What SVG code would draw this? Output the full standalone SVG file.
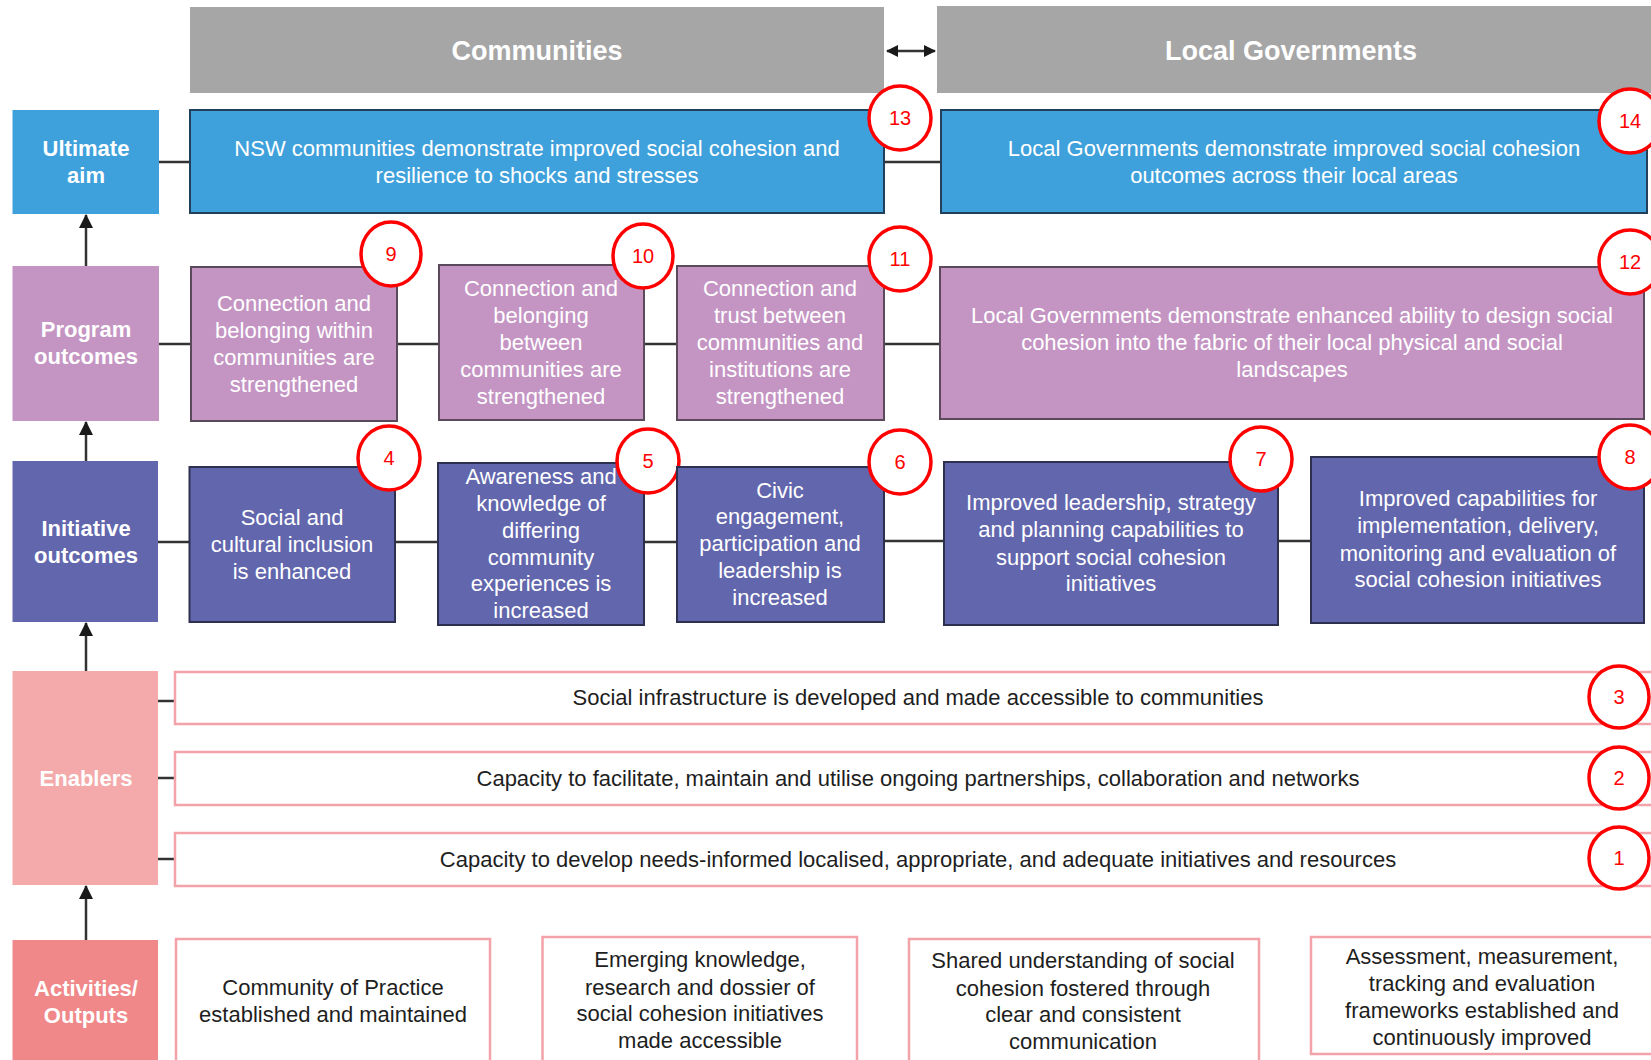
<svg xmlns="http://www.w3.org/2000/svg" width="1651" height="1060" viewBox="0 0 1651 1060">
<defs>
<marker id="ah" viewBox="0 0 14 14" refX="13" refY="7" markerWidth="14" markerHeight="14" markerUnits="userSpaceOnUse" orient="auto-start-reverse">
<path d="M0,0 L14,7 L0,14 Z" fill="#1a1a1a"/>
</marker>
<marker id="ah2" viewBox="0 0 12 12" refX="11" refY="6" markerWidth="12" markerHeight="12" markerUnits="userSpaceOnUse" orient="auto-start-reverse">
<path d="M0,0 L12,6 L0,12 Z" fill="#1a1a1a"/>
</marker>
</defs>
<style>
text{font-family:"Liberation Sans",Arial,sans-serif;text-anchor:middle}
.hdr{fill:#A6A6A6}
.hdrt{fill:#fff;font-weight:bold;font-size:27px}
.lab{font-weight:bold;font-size:22px;fill:#fff}
.wt{fill:#fff;font-size:22px}
.dk{fill:#1e1e1e;font-size:22px}
.ua{fill:#3FA1DB}
.ub{fill:#3FA1DB;stroke:#22405a;stroke-width:2}
.pa{fill:#C495C3}
.pb{fill:#C495C3;stroke:#5a4a5c;stroke-width:2}
.ia{fill:#6266AD}
.ib{fill:#6266AD;stroke:#2e3050;stroke-width:2}
.ea{fill:#F4AAAA}
.aa{fill:#F08789}
.wb{fill:#fff;stroke:#F2A2A8;stroke-width:2.5}
.num text{fill:#FF0000;font-size:20px}
.cn{stroke:#333;stroke-width:2.5;fill:none}
</style>

<g id="header-communities">
<rect class="hdr" x="190" y="7" width="694" height="86"/>
<text class="hdrt" x="537" y="60">Communities</text>
</g>
<g id="header-local-governments">
<rect class="hdr" x="937" y="6" width="716" height="87"/>
<text class="hdrt" x="1291" y="60">Local Governments</text>
</g>

<g id="connectors">
<line class="cn" x1="887" y1="51" x2="935" y2="51" marker-start="url(#ah2)" marker-end="url(#ah2)"/>
<line class="cn" x1="86" y1="266" x2="86" y2="215" marker-end="url(#ah)"/>
<line class="cn" x1="86" y1="461" x2="86" y2="422" marker-end="url(#ah)"/>
<line class="cn" x1="86" y1="671" x2="86" y2="623" marker-end="url(#ah)"/>
<line class="cn" x1="86" y1="940" x2="86" y2="886" marker-end="url(#ah)"/>
<line class="cn" x1="159" y1="162" x2="190" y2="162"/>
<line class="cn" x1="884" y1="162" x2="941" y2="162"/>
<line class="cn" x1="159" y1="344" x2="191" y2="344"/>
<line class="cn" x1="397" y1="344" x2="439" y2="344"/>
<line class="cn" x1="644" y1="344" x2="677" y2="344"/>
<line class="cn" x1="884" y1="344" x2="940" y2="344"/>
<line class="cn" x1="158" y1="542" x2="189" y2="542"/>
<line class="cn" x1="395" y1="542" x2="438" y2="542"/>
<line class="cn" x1="644" y1="542" x2="677" y2="542"/>
<line class="cn" x1="884" y1="541" x2="944" y2="541"/>
<line class="cn" x1="1278" y1="541" x2="1311" y2="541"/>
<line class="cn" x1="158" y1="701" x2="175" y2="701"/>
<line class="cn" x1="158" y1="778" x2="175" y2="778"/>
<line class="cn" x1="158" y1="859" x2="175" y2="859"/>
</g>

<g id="label-ultimate-aim">
<rect class="ua" x="12.5" y="110" width="146.5" height="104"/>
<text class="lab" x="86" y="156">Ultimate</text>
<text class="lab" x="86" y="183">aim</text>
</g>
<g id="label-program-outcomes">
<rect class="pa" x="12.5" y="266" width="146.5" height="155"/>
<text class="lab" x="86" y="337">Program</text>
<text class="lab" x="86" y="364">outcomes</text>
</g>
<g id="label-initiative-outcomes">
<rect class="ia" x="12.5" y="461" width="145.5" height="161"/>
<text class="lab" x="86" y="536">Initiative</text>
<text class="lab" x="86" y="563">outcomes</text>
</g>
<g id="label-enablers">
<rect class="ea" x="12.5" y="671" width="145.5" height="214"/>
<text class="lab" x="86" y="786">Enablers</text>
</g>
<g id="label-activities-outputs">
<rect class="aa" x="12.5" y="940" width="145.5" height="125"/>
<text class="lab" x="86" y="996">Activities/</text>
<text class="lab" x="86" y="1023">Outputs</text>
</g>

<g id="node-13">
<rect class="ub" x="190" y="110" width="694" height="103"/>
<text class="wt" x="537" y="156">NSW communities demonstrate improved social cohesion and</text>
<text class="wt" x="537" y="183">resilience to shocks and stresses</text>
<g class="num"><ellipse cx="900" cy="118" rx="31" ry="32" fill="#fff" stroke="#FF0000" stroke-width="3.5"/><text x="900" y="125">13</text></g>
</g>
<g id="node-14">
<rect class="ub" x="941" y="110" width="706" height="103"/>
<text class="wt" x="1294" y="156">Local Governments demonstrate improved social cohesion</text>
<text class="wt" x="1294" y="183">outcomes across their local areas</text>
<g class="num"><ellipse cx="1630" cy="121" rx="31" ry="32" fill="#fff" stroke="#FF0000" stroke-width="3.5"/><text x="1630" y="128">14</text></g>
</g>

<g id="node-9">
<rect class="pb" x="191" y="267" width="206" height="154"/>
<text class="wt" x="294" y="311">Connection and</text>
<text class="wt" x="294" y="338">belonging within</text>
<text class="wt" x="294" y="365">communities are</text>
<text class="wt" x="294" y="392">strengthened</text>
<g class="num"><ellipse cx="391" cy="254" rx="30" ry="32" fill="#fff" stroke="#FF0000" stroke-width="3.5"/><text x="391" y="261">9</text></g>
</g>
<g id="node-10">
<rect class="pb" x="439" y="265" width="205" height="155"/>
<text class="wt" x="541" y="296">Connection and</text>
<text class="wt" x="541" y="323">belonging</text>
<text class="wt" x="541" y="350">between</text>
<text class="wt" x="541" y="377">communities are</text>
<text class="wt" x="541" y="404">strengthened</text>
<g class="num"><ellipse cx="643" cy="256" rx="30" ry="32" fill="#fff" stroke="#FF0000" stroke-width="3.5"/><text x="643" y="263">10</text></g>
</g>
<g id="node-11">
<rect class="pb" x="677" y="266" width="207" height="154"/>
<text class="wt" x="780" y="296">Connection and</text>
<text class="wt" x="780" y="323">trust between</text>
<text class="wt" x="780" y="350">communities and</text>
<text class="wt" x="780" y="377">institutions are</text>
<text class="wt" x="780" y="404">strengthened</text>
<g class="num"><ellipse cx="900" cy="259" rx="31" ry="32" fill="#fff" stroke="#FF0000" stroke-width="3.5"/><text x="900" y="266">11</text></g>
</g>
<g id="node-12">
<rect class="pb" x="940" y="267" width="704" height="152"/>
<text class="wt" x="1292" y="323">Local Governments demonstrate enhanced ability to design social</text>
<text class="wt" x="1292" y="350">cohesion into the fabric of their local physical and social</text>
<text class="wt" x="1292" y="377">landscapes</text>
<g class="num"><ellipse cx="1630" cy="262" rx="31" ry="32" fill="#fff" stroke="#FF0000" stroke-width="3.5"/><text x="1630" y="269">12</text></g>
</g>

<g id="node-4">
<rect class="ib" x="189.5" y="467" width="205.5" height="155"/>
<text class="wt" x="292" y="525">Social and</text>
<text class="wt" x="292" y="552">cultural  inclusion</text>
<text class="wt" x="292" y="579">is enhanced</text>
<g class="num"><ellipse cx="389" cy="458" rx="31" ry="32" fill="#fff" stroke="#FF0000" stroke-width="3.5"/><text x="389" y="465">4</text></g>
</g>
<g id="node-5">
<rect class="ib" x="438" y="463" width="206" height="162"/>
<text class="wt" x="541" y="484">Awareness and</text>
<text class="wt" x="541" y="511">knowledge of</text>
<text class="wt" x="541" y="538">differing</text>
<text class="wt" x="541" y="565">community</text>
<text class="wt" x="541" y="591">experiences is</text>
<text class="wt" x="541" y="618">increased</text>
<g class="num"><ellipse cx="648" cy="461" rx="31" ry="32" fill="#fff" stroke="#FF0000" stroke-width="3.5"/><text x="648" y="468">5</text></g>
</g>
<g id="node-6">
<rect class="ib" x="677" y="467" width="207" height="155"/>
<text class="wt" x="780" y="498">Civic</text>
<text class="wt" x="780" y="524">engagement,</text>
<text class="wt" x="780" y="551">participation and</text>
<text class="wt" x="780" y="578">leadership is</text>
<text class="wt" x="780" y="605">increased</text>
<g class="num"><ellipse cx="900" cy="462" rx="31" ry="32" fill="#fff" stroke="#FF0000" stroke-width="3.5"/><text x="900" y="469">6</text></g>
</g>
<g id="node-7">
<rect class="ib" x="944" y="462" width="334" height="163"/>
<text class="wt" x="1111" y="510">Improved leadership, strategy</text>
<text class="wt" x="1111" y="537">and planning  capabilities to</text>
<text class="wt" x="1111" y="565">support social cohesion</text>
<text class="wt" x="1111" y="591">initiatives</text>
<g class="num"><ellipse cx="1261" cy="459" rx="31" ry="32" fill="#fff" stroke="#FF0000" stroke-width="3.5"/><text x="1261" y="466">7</text></g>
</g>
<g id="node-8">
<rect class="ib" x="1311" y="457" width="333" height="166"/>
<text class="wt" x="1478" y="506">Improved capabilities for</text>
<text class="wt" x="1478" y="533">implementation, delivery,</text>
<text class="wt" x="1478" y="561">monitoring and evaluation  of</text>
<text class="wt" x="1478" y="587">social cohesion initiatives</text>
<g class="num"><ellipse cx="1630" cy="457" rx="31" ry="32" fill="#fff" stroke="#FF0000" stroke-width="3.5"/><text x="1630" y="464">8</text></g>
</g>

<g id="node-3">
<rect class="wb" x="175" y="672" width="1490" height="52"/>
<text class="dk" x="918" y="705">Social infrastructure is developed and made accessible to communities</text>
<g class="num"><ellipse cx="1619" cy="697" rx="30" ry="31" fill="#fff" stroke="#FF0000" stroke-width="3.5"/><text x="1619" y="704">3</text></g>
</g>
<g id="node-2">
<rect class="wb" x="175" y="752" width="1490" height="53"/>
<text class="dk" x="918" y="786">Capacity to facilitate, maintain and utilise ongoing partnerships, collaboration and networks</text>
<g class="num"><ellipse cx="1619" cy="778" rx="30" ry="31" fill="#fff" stroke="#FF0000" stroke-width="3.5"/><text x="1619" y="785">2</text></g>
</g>
<g id="node-1">
<rect class="wb" x="175" y="833" width="1490" height="53"/>
<text class="dk" x="918" y="867">Capacity to develop needs-informed localised, appropriate, and adequate initiatives and resources</text>
<g class="num"><ellipse cx="1619" cy="858" rx="30" ry="31" fill="#fff" stroke="#FF0000" stroke-width="3.5"/><text x="1619" y="865">1</text></g>
</g>

<g id="output-1">
<rect class="wb" x="176" y="939" width="314" height="130"/>
<text class="dk" x="333" y="995">Community of Practice</text>
<text class="dk" x="333" y="1022">established and maintained</text>
</g>
<g id="output-2">
<rect class="wb" x="542.5" y="937" width="314.5" height="130"/>
<text class="dk" x="700" y="967">Emerging knowledge,</text>
<text class="dk" x="700" y="995">research and  dossier of</text>
<text class="dk" x="700" y="1021">social cohesion initiatives</text>
<text class="dk" x="700" y="1048">made accessible</text>
</g>
<g id="output-3">
<rect class="wb" x="909" y="939" width="350" height="130"/>
<text class="dk" x="1083" y="968">Shared understanding of social</text>
<text class="dk" x="1083" y="996">cohesion fostered through</text>
<text class="dk" x="1083" y="1022">clear and consistent</text>
<text class="dk" x="1083" y="1049">communication</text>
</g>
<g id="output-4">
<rect class="wb" x="1311" y="937" width="360" height="117"/>
<text class="dk" x="1482" y="964">Assessment, measurement,</text>
<text class="dk" x="1482" y="991">tracking and evaluation</text>
<text class="dk" x="1482" y="1018">frameworks established and</text>
<text class="dk" x="1482" y="1045">continuously improved</text>
</g>
</svg>
